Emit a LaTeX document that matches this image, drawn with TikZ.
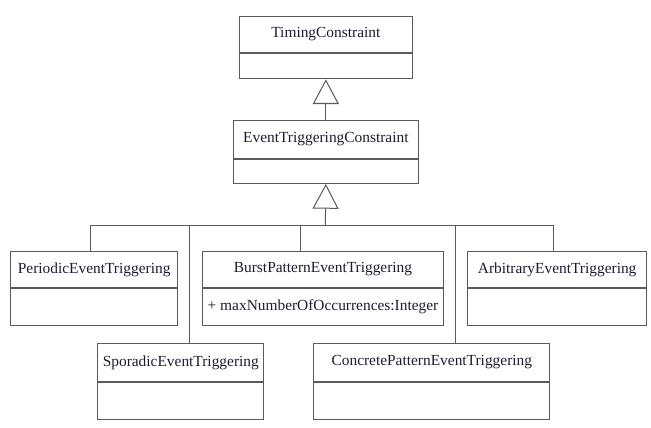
\documentclass[tikz,border=0pt]{standalone}
\usepackage{fontspec}
\setmainfont{Liberation Serif}
\usetikzlibrary{arrows.meta}
\definecolor{linec}{RGB}{90,90,90}
\definecolor{textc}{RGB}{28,28,48}
\tikzset{
  cname/.style={draw=linec, line width=1pt, rectangle, inner sep=0pt, text=textc, font=\fontsize{15.4}{18}\selectfont},
  cattr/.style={draw=linec, line width=1pt, rectangle, inner sep=0pt, text=textc, font=\fontsize{15.4}{18}\selectfont},
  conn/.style={draw=linec, line width=1pt},
  gen/.style={draw=linec, line width=1pt, -{Triangle[open, length=24.7pt, width=26pt, fill=white]}}
}
% name, left, top, width, h1, h2, text, attr
\newcommand{\umlclass}[8]{%
  \node[cname, minimum width=#4pt, minimum height=#5pt, anchor=north west] (#1) at (#2,#3) {#7};
  \node[cattr, minimum width=#4pt, minimum height=#6pt, anchor=north] (#1-b) at (#1.south) {#8};
}
\begin{document}
\begin{tikzpicture}[x=1pt,y=-1pt]
\useasboundingbox (0,0) rectangle (651,428);
\umlclass{tc}{238.7}{15.7}{173.3}{36.6}{25}{TimingConstraint}{}
\umlclass{et}{232.7}{120.3}{185.3}{37.4}{24.3}{EventTriggeringConstraint}{}
\umlclass{per}{10}{250.7}{167.3}{36.3}{37}{PeriodicEventTriggering}{}
\umlclass{bur}{202.3}{250.7}{240.4}{36.3}{37}{BurstPatternEventTriggering}{+ maxNumberOfOccurrences:Integer}
\umlclass{arb}{467.3}{250.7}{178.7}{36.3}{37}{ArbitraryEventTriggering}{}
\umlclass{spo}{97.3}{343.3}{166}{37.4}{37}{SporadicEventTriggering}{}
\umlclass{con}{313.3}{343.3}{236}{37.4}{37}{ConcretePatternEventTriggering}{}
\draw[gen] (et.north) -- (tc-b.south);
\coordinate (bus) at (325.35,225.7);
\coordinate (d1) at (90.7,225.7);
\coordinate (d2) at (189.3,225.7);
\coordinate (d3) at (300.7,225.7);
\coordinate (d4) at (455.5,225.7);
\coordinate (d5) at (553.7,225.7);
\draw[conn] (per.north -| d1) -- (d1) -- (bus);
\draw[conn] (spo.north -| d2) -- (d2);
\draw[conn] (bur.north -| d3) -- (d3);
\draw[conn] (con.north -| d4) -- (d4);
\draw[conn] (arb.north -| d5) -- (d5) -- (bus);
\draw[gen] (bus) -- (et-b.south);
\end{tikzpicture}
\end{document}
